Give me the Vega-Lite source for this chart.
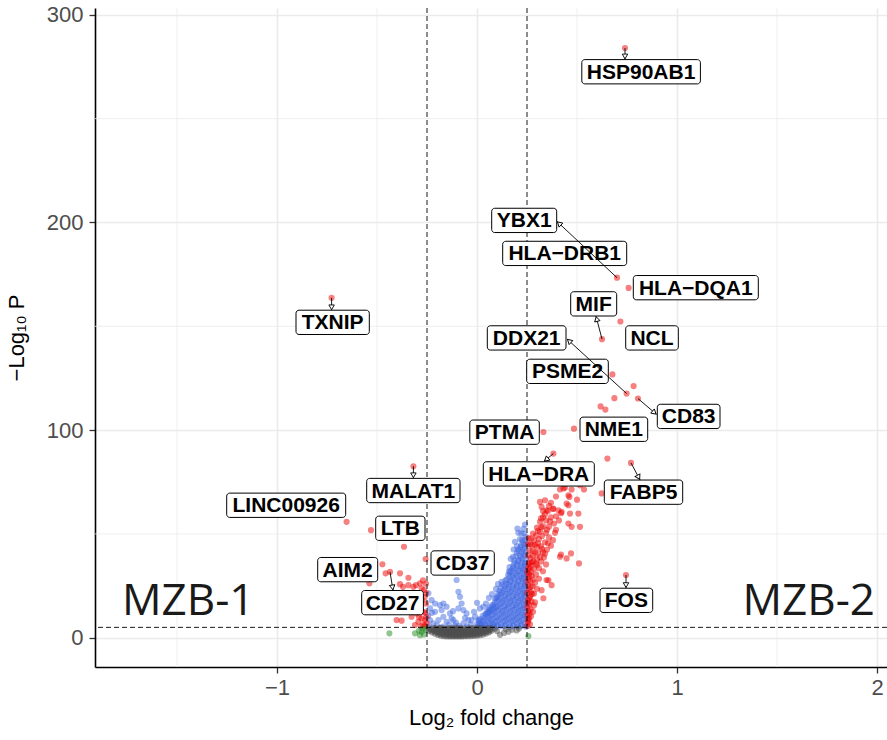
{
  "$schema": "https://vega.github.io/schema/vega-lite/v6.json",
  "width": 792,
  "height": 659,
  "autosize": {"type": "none"},
  "padding": {"left": 95, "top": 8, "right": 0, "bottom": 73},
  "background": "white",
  "config": {"view": {"stroke": null}, "font": "Liberation Sans"},
  "datasets": {
    "pts": [
      {"x":0.005,"y":5.6,"c":"P"},{"x":0.012,"y":7.1,"c":"P"},{"x":0.018,"y":5.9,"c":"P"},{"x":0.010,"y":8.3,"c":"P"},
      {"x":0.025,"y":5.8,"c":"P"},{"x":0.030,"y":7.9,"c":"P"},{"x":0.035,"y":9.6,"c":"P"},{"x":0.028,"y":10.6,"c":"P"},{"x":0.040,"y":6.5,"c":"P"},
      {"x":0.048,"y":5.4,"c":"P"},{"x":0.052,"y":8.0,"c":"P"},{"x":0.055,"y":10.4,"c":"P"},{"x":0.050,"y":12.2,"c":"P"},{"x":0.058,"y":13.6,"c":"P"},{"x":0.045,"y":11.0,"c":"P"},
      {"x":0.065,"y":5.9,"c":"P"},{"x":0.070,"y":8.6,"c":"P"},{"x":0.072,"y":11.1,"c":"P"},{"x":0.068,"y":13.5,"c":"P"},{"x":0.075,"y":15.6,"c":"P"},{"x":0.078,"y":6.7,"c":"P"},{"x":0.062,"y":14.5,"c":"P"},
      {"x":0.085,"y":5.2,"c":"P"},{"x":0.090,"y":7.5,"c":"P"},{"x":0.092,"y":10.0,"c":"P"},{"x":0.088,"y":12.4,"c":"P"},{"x":0.095,"y":14.8,"c":"P"},{"x":0.090,"y":17.0,"c":"P"},{"x":0.097,"y":19.1,"c":"P"},{"x":0.083,"y":16.0,"c":"P"},
      {"x":0.105,"y":6.1,"c":"P"},{"x":0.110,"y":8.6,"c":"P"},{"x":0.112,"y":11.2,"c":"P"},{"x":0.108,"y":13.6,"c":"P"},{"x":0.115,"y":16.1,"c":"P"},{"x":0.110,"y":18.5,"c":"P"},{"x":0.117,"y":20.8,"c":"P"},{"x":0.113,"y":22.6,"c":"P"},{"x":0.102,"y":19.8,"c":"P"},
      {"x":0.125,"y":5.4,"c":"P"},{"x":0.130,"y":7.9,"c":"P"},{"x":0.132,"y":10.3,"c":"P"},{"x":0.128,"y":12.8,"c":"P"},{"x":0.135,"y":15.2,"c":"P"},{"x":0.130,"y":17.7,"c":"P"},{"x":0.137,"y":20.1,"c":"P"},{"x":0.133,"y":22.6,"c":"P"},{"x":0.138,"y":24.9,"c":"P"},{"x":0.127,"y":25.6,"c":"P"},
      {"x":0.145,"y":6.2,"c":"P"},{"x":0.150,"y":8.7,"c":"P"},{"x":0.152,"y":11.1,"c":"P"},{"x":0.148,"y":13.6,"c":"P"},{"x":0.155,"y":16.0,"c":"P"},{"x":0.150,"y":18.5,"c":"P"},{"x":0.157,"y":21.0,"c":"P"},{"x":0.153,"y":23.4,"c":"P"},{"x":0.158,"y":25.8,"c":"P"},{"x":0.149,"y":28.1,"c":"P"},{"x":0.156,"y":30.3,"c":"P"},{"x":0.160,"y":32.0,"c":"P"},
      {"x":0.165,"y":5.3,"c":"P"},{"x":0.170,"y":7.8,"c":"P"},{"x":0.172,"y":10.2,"c":"P"},{"x":0.168,"y":12.7,"c":"P"},{"x":0.175,"y":15.1,"c":"P"},{"x":0.170,"y":17.6,"c":"P"},{"x":0.177,"y":20.0,"c":"P"},{"x":0.173,"y":22.5,"c":"P"},{"x":0.178,"y":24.9,"c":"P"},{"x":0.169,"y":27.4,"c":"P"},{"x":0.176,"y":29.8,"c":"P"},{"x":0.172,"y":32.2,"c":"P"},{"x":0.179,"y":34.4,"c":"P"},
      {"x":0.185,"y":6.0,"c":"P"},{"x":0.190,"y":8.5,"c":"P"},{"x":0.192,"y":10.9,"c":"P"},{"x":0.188,"y":13.4,"c":"P"},{"x":0.195,"y":15.8,"c":"P"},{"x":0.190,"y":18.3,"c":"P"},{"x":0.197,"y":20.7,"c":"P"},{"x":0.193,"y":23.2,"c":"P"},{"x":0.198,"y":25.6,"c":"P"},{"x":0.189,"y":28.1,"c":"P"},{"x":0.196,"y":30.5,"c":"P"},{"x":0.192,"y":33.0,"c":"P"},{"x":0.199,"y":35.4,"c":"P"},{"x":0.187,"y":37.2,"c":"P"},{"x":0.195,"y":39.5,"c":"P"},
      {"x":0.205,"y":5.4,"c":"P"},{"x":0.210,"y":7.9,"c":"P"},{"x":0.212,"y":10.3,"c":"P"},{"x":0.208,"y":12.8,"c":"P"},{"x":0.215,"y":15.2,"c":"P"},{"x":0.210,"y":17.7,"c":"P"},{"x":0.217,"y":20.1,"c":"P"},{"x":0.213,"y":22.6,"c":"P"},{"x":0.218,"y":25.0,"c":"P"},{"x":0.209,"y":27.5,"c":"P"},{"x":0.216,"y":29.9,"c":"P"},{"x":0.212,"y":32.4,"c":"P"},{"x":0.219,"y":34.8,"c":"P"},{"x":0.207,"y":37.0,"c":"P"},{"x":0.214,"y":39.4,"c":"P"},{"x":0.210,"y":41.8,"c":"P"},{"x":0.218,"y":43.6,"c":"P"},
      {"x":0.225,"y":6.1,"c":"P"},{"x":0.230,"y":8.6,"c":"P"},{"x":0.232,"y":11.0,"c":"P"},{"x":0.228,"y":13.5,"c":"P"},{"x":0.235,"y":15.9,"c":"P"},{"x":0.230,"y":18.4,"c":"P"},{"x":0.237,"y":20.8,"c":"P"},{"x":0.233,"y":23.3,"c":"P"},{"x":0.238,"y":25.7,"c":"P"},{"x":0.229,"y":28.2,"c":"P"},{"x":0.236,"y":30.6,"c":"P"},{"x":0.232,"y":33.1,"c":"P"},{"x":0.239,"y":35.5,"c":"P"},{"x":0.227,"y":37.9,"c":"P"},{"x":0.234,"y":40.3,"c":"P"},{"x":0.230,"y":42.7,"c":"P"},{"x":0.238,"y":45.0,"c":"P"},{"x":0.226,"y":47.1,"c":"P"},
      {"x":0.244,"y":5.3,"c":"P"},{"x":0.247,"y":9.0,"c":"P"},{"x":0.243,"y":12.5,"c":"P"},{"x":0.248,"y":16.2,"c":"P"},{"x":0.244,"y":19.8,"c":"P"},{"x":0.247,"y":23.4,"c":"P"},{"x":0.243,"y":27.0,"c":"P"},{"x":0.248,"y":30.6,"c":"P"},{"x":0.245,"y":34.2,"c":"P"},{"x":0.246,"y":37.8,"c":"P"},{"x":0.242,"y":41.4,"c":"P"},{"x":0.247,"y":45.0,"c":"P"},{"x":0.244,"y":48.5,"c":"P"},
      {"x":0.202,"y":52.6,"c":"P"},{"x":0.190,"y":46.2,"c":"P"},{"x":0.207,"y":50.5,"c":"P"},{"x":0.222,"y":50.3,"c":"P"},{"x":0.240,"y":54.5,"c":"P"},{"x":0.183,"y":42.5,"c":"P"},{"x":0.168,"y":38.0,"c":"P"},{"x":0.215,"y":47.5,"c":"P"},{"x":0.123,"y":26.9,"c":"P"},{"x":0.090,"y":18.9,"c":"P"},{"x":0.200,"y":44.0,"c":"P"},
      {"x":0.02,"y":6.8,"c":"P"},{"x":0.015,"y":9.0,"c":"P"},{"x":0.038,"y":8.2,"c":"P"},{"x":0.042,"y":11.5,"c":"P"},{"x":0.033,"y":5.2,"c":"P"},
      {"x":0.06,"y":6.9,"c":"P"},{"x":0.062,"y":9.3,"c":"P"},{"x":0.057,"y":11.8,"c":"P"},{"x":0.065,"y":12.6,"c":"P"},
      {"x":0.08,"y":6.2,"c":"P"},{"x":0.08,"y":9.0,"c":"P"},{"x":0.082,"y":11.5,"c":"P"},{"x":0.078,"y":13.8,"c":"P"},{"x":0.085,"y":14.0,"c":"P"},
      {"x":0.1,"y":5.5,"c":"P"},{"x":0.1,"y":7.8,"c":"P"},{"x":0.102,"y":10.2,"c":"P"},{"x":0.098,"y":12.8,"c":"P"},{"x":0.104,"y":15.3,"c":"P"},{"x":0.1,"y":17.6,"c":"P"},{"x":0.106,"y":21.2,"c":"P"},
      {"x":0.12,"y":6.5,"c":"P"},{"x":0.12,"y":9.2,"c":"P"},{"x":0.122,"y":11.8,"c":"P"},{"x":0.118,"y":14.4,"c":"P"},{"x":0.124,"y":16.9,"c":"P"},{"x":0.12,"y":19.4,"c":"P"},{"x":0.125,"y":21.8,"c":"P"},{"x":0.119,"y":24.0,"c":"P"},
      {"x":0.14,"y":5.6,"c":"P"},{"x":0.14,"y":8.2,"c":"P"},{"x":0.142,"y":10.8,"c":"P"},{"x":0.138,"y":13.3,"c":"P"},{"x":0.144,"y":15.8,"c":"P"},{"x":0.14,"y":18.4,"c":"P"},{"x":0.145,"y":20.9,"c":"P"},{"x":0.141,"y":23.4,"c":"P"},{"x":0.146,"y":26.0,"c":"P"},{"x":0.142,"y":27.6,"c":"P"},
      {"x":0.16,"y":6.6,"c":"P"},{"x":0.16,"y":9.2,"c":"P"},{"x":0.162,"y":11.8,"c":"P"},{"x":0.158,"y":14.4,"c":"P"},{"x":0.164,"y":16.9,"c":"P"},{"x":0.16,"y":19.4,"c":"P"},{"x":0.165,"y":22.0,"c":"P"},{"x":0.161,"y":24.5,"c":"P"},{"x":0.166,"y":27.0,"c":"P"},{"x":0.162,"y":29.5,"c":"P"},{"x":0.165,"y":31.5,"c":"P"},{"x":0.163,"y":34.0,"c":"P"},
      {"x":0.18,"y":5.5,"c":"P"},{"x":0.18,"y":8.1,"c":"P"},{"x":0.182,"y":10.7,"c":"P"},{"x":0.178,"y":13.3,"c":"P"},{"x":0.184,"y":15.8,"c":"P"},{"x":0.18,"y":18.4,"c":"P"},{"x":0.185,"y":20.9,"c":"P"},{"x":0.181,"y":23.5,"c":"P"},{"x":0.186,"y":26.0,"c":"P"},{"x":0.182,"y":28.6,"c":"P"},{"x":0.186,"y":31.1,"c":"P"},{"x":0.182,"y":33.6,"c":"P"},{"x":0.186,"y":36.0,"c":"P"},{"x":0.18,"y":39.0,"c":"P"},
      {"x":0.2,"y":6.7,"c":"P"},{"x":0.2,"y":9.3,"c":"P"},{"x":0.202,"y":11.9,"c":"P"},{"x":0.198,"y":14.5,"c":"P"},{"x":0.204,"y":17.0,"c":"P"},{"x":0.2,"y":19.6,"c":"P"},{"x":0.205,"y":22.1,"c":"P"},{"x":0.201,"y":24.7,"c":"P"},{"x":0.206,"y":27.2,"c":"P"},{"x":0.202,"y":29.8,"c":"P"},{"x":0.206,"y":32.3,"c":"P"},{"x":0.202,"y":34.8,"c":"P"},{"x":0.206,"y":37.3,"c":"P"},{"x":0.2,"y":41.0,"c":"P"},{"x":0.204,"y":42.5,"c":"P"},
      {"x":0.22,"y":5.6,"c":"P"},{"x":0.22,"y":8.2,"c":"P"},{"x":0.222,"y":10.8,"c":"P"},{"x":0.218,"y":13.4,"c":"P"},{"x":0.224,"y":15.9,"c":"P"},{"x":0.22,"y":18.5,"c":"P"},{"x":0.225,"y":21.0,"c":"P"},{"x":0.221,"y":23.6,"c":"P"},{"x":0.226,"y":26.1,"c":"P"},{"x":0.222,"y":28.7,"c":"P"},{"x":0.226,"y":31.2,"c":"P"},{"x":0.222,"y":33.7,"c":"P"},{"x":0.226,"y":36.2,"c":"P"},{"x":0.22,"y":38.6,"c":"P"},{"x":0.224,"y":41.0,"c":"P"},{"x":0.22,"y":44.5,"c":"P"},{"x":0.228,"y":46.0,"c":"P"},
      {"x":0.24,"y":6.9,"c":"P"},{"x":0.24,"y":10.6,"c":"P"},{"x":0.238,"y":14.2,"c":"P"},{"x":0.24,"y":17.9,"c":"P"},{"x":0.239,"y":21.6,"c":"P"},{"x":0.24,"y":25.2,"c":"P"},{"x":0.238,"y":28.8,"c":"P"},{"x":0.24,"y":32.4,"c":"P"},{"x":0.239,"y":36.0,"c":"P"},{"x":0.24,"y":39.6,"c":"P"},{"x":0.237,"y":43.2,"c":"P"},{"x":0.24,"y":47.0,"c":"P"},{"x":0.236,"y":50.2,"c":"P"},{"x":0.232,"y":52.5,"c":"P"},
      {"x":-0.243,"y":21.4,"c":"P"},{"x":-0.227,"y":18.1,"c":"P"},{"x":-0.21,"y":16.5,"c":"P"},{"x":-0.185,"y":15.7,"c":"P"},{"x":-0.168,"y":16.5,"c":"P"},{"x":-0.235,"y":14.1,"c":"P"},{"x":-0.21,"y":12.5,"c":"P"},{"x":-0.177,"y":13.3,"c":"P"},{"x":-0.152,"y":14.9,"c":"P"},{"x":-0.135,"y":11.7,"c":"P"},{"x":-0.168,"y":10.1,"c":"P"},{"x":-0.193,"y":8.5,"c":"P"},{"x":-0.235,"y":8.5,"c":"P"},{"x":-0.118,"y":8.5,"c":"P"},{"x":-0.102,"y":27.8,"c":"P"},{"x":-0.093,"y":22.1,"c":"P"},{"x":-0.085,"y":19.7,"c":"P"},{"x":-0.077,"y":16.5,"c":"P"},{"x":-0.093,"y":14.1,"c":"P"},{"x":-0.068,"y":13.3,"c":"P"},{"x":-0.052,"y":11.7,"c":"P"},{"x":-0.127,"y":9.3,"c":"P"},{"x":-0.105,"y":7.2,"c":"P"},{"x":-0.043,"y":8.5,"c":"P"},{"x":-0.027,"y":8.5,"c":"P"},{"x":-0.01,"y":10.1,"c":"P"},{"x":0.015,"y":14.1,"c":"P"},{"x":0.032,"y":14.9,"c":"P"},{"x":0.057,"y":12.5,"c":"P"},{"x":0.082,"y":14.9,"c":"P"},{"x":0.007,"y":8.5,"c":"P"},{"x":-0.152,"y":7.7,"c":"P"},{"x":-0.218,"y":6.9,"c":"P"},{"x":-0.068,"y":6.9,"c":"P"},{"x":-0.2,"y":6.0,"c":"P"},{"x":-0.14,"y":6.3,"c":"P"},{"x":-0.09,"y":5.6,"c":"P"},{"x":-0.03,"y":6.2,"c":"P"},{"x":-0.245,"y":10.5,"c":"P"},{"x":-0.225,"y":12.0,"c":"P"},{"x":-0.12,"y":12.8,"c":"P"},{"x":-0.06,"y":9.5,"c":"P"},{"x":-0.015,"y":12.5,"c":"P"},{"x":0.0,"y":16.8,"c":"P"},{"x":0.045,"y":16.5,"c":"P"},{"x":0.06,"y":19.2,"c":"P"},{"x":0.075,"y":21.0,"c":"P"},{"x":0.095,"y":23.5,"c":"P"},{"x":0.105,"y":25.8,"c":"P"},{"x":-0.24,"y":5.5,"c":"P"},{"x":-0.17,"y":5.4,"c":"P"},{"x":-0.11,"y":5.8,"c":"P"},{"x":-0.05,"y":5.5,"c":"P"},{"x":0.0,"y":6.5,"c":"P"},
      {"x":0.74,"y":284.0,"c":"S"},{"x":-0.727,"y":163.7,"c":"S"},{"x":0.70,"y":173.4,"c":"S"},{"x":0.758,"y":168.5,"c":"S"},{"x":0.717,"y":152.3,"c":"S"},{"x":0.625,"y":143.8,"c":"S"},{"x":0.677,"y":126.8,"c":"S"},{"x":0.783,"y":121.2,"c":"S"},{"x":0.748,"y":117.6,"c":"S"},{"x":0.805,"y":115.2,"c":"S"},{"x":0.687,"y":115.4,"c":"S"},{"x":0.618,"y":111.4,"c":"S"},{"x":0.642,"y":109.9,"c":"S"},{"x":0.332,"y":99.1,"c":"S"},{"x":0.485,"y":100.7,"c":"S"},{"x":0.382,"y":88.7,"c":"S"},{"x":0.652,"y":86.3,"c":"S"},{"x":0.77,"y":84.2,"c":"S"},{"x":0.745,"y":30.2,"c":"S"},{"x":0.623,"y":69.5,"c":"S"},{"x":-0.318,"y":82.6,"c":"S"},{"x":-0.652,"y":55.8,"c":"S"},
      {"x":0.535,"y":71.4,"c":"S"},{"x":0.415,"y":71.4,"c":"S"},{"x":0.44,"y":72.3,"c":"S"},{"x":0.473,"y":71.4,"c":"S"},{"x":0.515,"y":73.4,"c":"S"},{"x":0.462,"y":67.8,"c":"S"},{"x":0.315,"y":65.4,"c":"S"},{"x":0.34,"y":66.2,"c":"S"},{"x":0.323,"y":63.0,"c":"S"},{"x":0.348,"y":61.4,"c":"S"},{"x":0.382,"y":62.2,"c":"S"},{"x":0.407,"y":61.4,"c":"S"},{"x":0.423,"y":60.6,"c":"S"},{"x":0.457,"y":63.8,"c":"S"},{"x":0.465,"y":59.8,"c":"S"},{"x":0.507,"y":59.8,"c":"S"},{"x":0.457,"y":55.0,"c":"S"},{"x":0.473,"y":53.4,"c":"S"},{"x":0.515,"y":53.4,"c":"S"},{"x":0.457,"y":68.6,"c":"S"},{"x":0.448,"y":64.6,"c":"S"},{"x":0.37,"y":65.0,"c":"S"},{"x":0.395,"y":68.0,"c":"S"},{"x":0.432,"y":71.9,"c":"S"},{"x":0.5,"y":66.5,"c":"S"},{"x":0.51,"y":35.8,"c":"S"},{"x":0.47,"y":40.6,"c":"S"},{"x":0.42,"y":40.1,"c":"S"},{"x":0.448,"y":38.2,"c":"S"},{"x":0.415,"y":39.0,"c":"S"},{"x":0.357,"y":27.7,"c":"S"},{"x":0.332,"y":19.0,"c":"S"},
      {"x":0.252,"y":5.6,"c":"S"},{"x":0.255,"y":7.4,"c":"S"},{"x":0.26,"y":9.2,"c":"S"},{"x":0.253,"y":11.0,"c":"S"},{"x":0.265,"y":6.5,"c":"S"},{"x":0.27,"y":10.3,"c":"S"},{"x":0.258,"y":12.8,"c":"S"},
      {"x":0.252,"y":14.5,"c":"S"},{"x":0.26,"y":16.0,"c":"S"},{"x":0.268,"y":13.7,"c":"S"},{"x":0.255,"y":18.2,"c":"S"},{"x":0.272,"y":17.5,"c":"S"},{"x":0.265,"y":19.8,"c":"S"},{"x":0.285,"y":15.5,"c":"S"},{"x":0.29,"y":17.0,"c":"S"},{"x":0.28,"y":12.5,"c":"S"},{"x":0.276,"y":21.0,"c":"S"},
      {"x":0.252,"y":21.5,"c":"S"},{"x":0.26,"y":23.2,"c":"S"},{"x":0.27,"y":22.0,"c":"S"},{"x":0.255,"y":25.6,"c":"S"},{"x":0.265,"y":27.3,"c":"S"},{"x":0.278,"y":24.8,"c":"S"},{"x":0.285,"y":21.3,"c":"S"},{"x":0.29,"y":26.5,"c":"S"},{"x":0.3,"y":23.6,"c":"S"},{"x":0.257,"y":29.4,"c":"S"},{"x":0.273,"y":29.8,"c":"S"},{"x":0.31,"y":28.4,"c":"S"},{"x":0.323,"y":22.9,"c":"S"},{"x":0.348,"y":27.8,"c":"S"},{"x":0.373,"y":25.3,"c":"S"},{"x":0.295,"y":30.5,"c":"S"},
      {"x":0.252,"y":31.5,"c":"S"},{"x":0.262,"y":33.4,"c":"S"},{"x":0.27,"y":31.9,"c":"S"},{"x":0.258,"y":35.6,"c":"S"},{"x":0.275,"y":36.3,"c":"S"},{"x":0.285,"y":33.2,"c":"S"},{"x":0.295,"y":35.8,"c":"S"},{"x":0.268,"y":38.4,"c":"S"},{"x":0.28,"y":39.5,"c":"S"},{"x":0.3,"y":38.0,"c":"S"},{"x":0.31,"y":33.5,"c":"S"},{"x":0.32,"y":36.7,"c":"S"},{"x":0.29,"y":41.0,"c":"S"},{"x":0.305,"y":40.8,"c":"S"},{"x":0.335,"y":38.6,"c":"S"},{"x":0.345,"y":35.3,"c":"S"},{"x":0.33,"y":32.0,"c":"S"},
      {"x":0.262,"y":42.0,"c":"S"},{"x":0.275,"y":44.5,"c":"S"},{"x":0.285,"y":46.8,"c":"S"},{"x":0.3,"y":43.6,"c":"S"},{"x":0.31,"y":47.5,"c":"S"},{"x":0.32,"y":44.0,"c":"S"},{"x":0.33,"y":41.2,"c":"S"},{"x":0.34,"y":46.0,"c":"S"},{"x":0.35,"y":42.5,"c":"S"},{"x":0.295,"y":49.2,"c":"S"},{"x":0.315,"y":51.0,"c":"S"},{"x":0.36,"y":48.3,"c":"S"},{"x":0.27,"y":47.7,"c":"S"},{"x":0.255,"y":45.0,"c":"S"},{"x":0.37,"y":44.3,"c":"S"},{"x":0.38,"y":47.0,"c":"S"},{"x":0.345,"y":50.5,"c":"S"},{"x":0.325,"y":49.0,"c":"S"},{"x":0.39,"y":50.5,"c":"S"},
      {"x":0.3,"y":53.0,"c":"S"},{"x":0.315,"y":55.8,"c":"S"},{"x":0.33,"y":53.6,"c":"S"},{"x":0.345,"y":56.5,"c":"S"},{"x":0.36,"y":53.5,"c":"S"},{"x":0.37,"y":58.0,"c":"S"},{"x":0.385,"y":55.0,"c":"S"},{"x":0.395,"y":52.0,"c":"S"},{"x":0.41,"y":56.5,"c":"S"},{"x":0.34,"y":59.5,"c":"S"},{"x":0.32,"y":57.5,"c":"S"},{"x":0.355,"y":61.0,"c":"S"},{"x":0.42,"y":60.0,"c":"S"},{"x":0.38,"y":62.0,"c":"S"},
      {"x":0.256,"y":8.5,"c":"S"},{"x":0.262,"y":11.5,"c":"S"},{"x":0.254,"y":16.8,"c":"S"},{"x":0.262,"y":19.0,"c":"S"},{"x":0.268,"y":24.6,"c":"S"},{"x":0.254,"y":27.8,"c":"S"},{"x":0.262,"y":30.6,"c":"S"},{"x":0.28,"y":28.0,"c":"S"},{"x":0.255,"y":33.3,"c":"S"},{"x":0.264,"y":36.0,"c":"S"},{"x":0.256,"y":39.6,"c":"S"},{"x":0.278,"y":41.8,"c":"S"},{"x":0.266,"y":45.0,"c":"S"},{"x":0.258,"y":48.0,"c":"S"},{"x":0.29,"y":44.8,"c":"S"},{"x":0.305,"y":45.5,"c":"S"},{"x":0.28,"y":50.2,"c":"S"},{"x":0.305,"y":51.5,"c":"S"},{"x":0.322,"y":53.2,"c":"S"},{"x":0.35,"y":52.0,"c":"S"},{"x":0.33,"y":58.0,"c":"S"},{"x":0.365,"y":56.0,"c":"S"},{"x":0.395,"y":58.5,"c":"S"},{"x":0.36,"y":63.5,"c":"S"},{"x":0.33,"y":61.0,"c":"S"},{"x":0.3,"y":35.0,"c":"S"},{"x":0.315,"y":38.8,"c":"S"},{"x":0.282,"y":36.8,"c":"S"},{"x":0.27,"y":34.6,"c":"S"},{"x":0.325,"y":42.8,"c":"S"},{"x":0.34,"y":40.5,"c":"S"},{"x":0.355,"y":45.5,"c":"S"},
      {"x":-0.53,"y":51.8,"c":"S"},{"x":-0.365,"y":43.8,"c":"S"},{"x":-0.257,"y":37.9,"c":"S"},{"x":-0.473,"y":35.4,"c":"S"},{"x":-0.457,"y":31.0,"c":"S"},{"x":-0.435,"y":31.7,"c":"S"},{"x":-0.385,"y":31.0,"c":"S"},{"x":-0.343,"y":28.9,"c":"S"},{"x":-0.538,"y":26.2,"c":"S"},{"x":-0.385,"y":25.8,"c":"S"},{"x":-0.37,"y":24.5,"c":"S"},{"x":-0.318,"y":24.5,"c":"S"},{"x":-0.285,"y":26.2,"c":"S"},{"x":-0.277,"y":23.8,"c":"S"},{"x":-0.27,"y":27.6,"c":"S"},{"x":-0.305,"y":25.3,"c":"S"},{"x":-0.343,"y":25.3,"c":"S"},{"x":-0.402,"y":8.5,"c":"S"},{"x":-0.377,"y":8.2,"c":"S"},{"x":-0.327,"y":10.1,"c":"S"},{"x":-0.285,"y":14.1,"c":"S"},{"x":-0.268,"y":12.5,"c":"S"},{"x":-0.302,"y":11.7,"c":"S"},{"x":-0.277,"y":9.3,"c":"S"},{"x":-0.26,"y":8.5,"c":"S"},{"x":-0.293,"y":7.7,"c":"S"},{"x":-0.31,"y":6.1,"c":"S"},{"x":-0.268,"y":6.1,"c":"S"},{"x":-0.255,"y":16.5,"c":"S"},{"x":-0.262,"y":19.5,"c":"S"},{"x":-0.275,"y":18.0,"c":"S"},{"x":-0.255,"y":21.5,"c":"S"},{"x":-0.258,"y":12.0,"c":"S"},{"x":-0.252,"y":7.0,"c":"S"},{"x":-0.253,"y":10.0,"c":"S"},{"x":-0.26,"y":5.6,"c":"S"},{"x":-0.28,"y":5.5,"c":"S"},{"x":-0.29,"y":10.0,"c":"S"},{"x":-0.265,"y":23.0,"c":"S"},{"x":-0.3,"y":18.5,"c":"S"},{"x":-0.29,"y":15.5,"c":"S"},{"x":-0.255,"y":26.0,"c":"S"},{"x":-0.28,"y":20.5,"c":"S"},
      {"x":-0.438,"y":2.1,"c":"FC"},{"x":-0.31,"y":2.1,"c":"FC"},{"x":-0.29,"y":3.3,"c":"FC"},{"x":-0.277,"y":2.9,"c":"FC"},{"x":-0.265,"y":1.6,"c":"FC"},{"x":-0.255,"y":3.8,"c":"FC"},{"x":-0.27,"y":4.4,"c":"FC"},{"x":0.257,"y":0.8,"c":"FC"},{"x":-0.285,"y":1.2,"c":"FC"},
      {"x":-0.24,"y":3.2,"c":"NS"},{"x":-0.241,"y":4.5,"c":"NS"},{"x":-0.225,"y":2.6,"c":"NS"},{"x":-0.226,"y":4.0,"c":"NS"},{"x":-0.21,"y":1.9,"c":"NS"},{"x":-0.212,"y":3.4,"c":"NS"},{"x":-0.209,"y":4.7,"c":"NS"},{"x":-0.195,"y":1.3,"c":"NS"},{"x":-0.196,"y":2.8,"c":"NS"},{"x":-0.194,"y":4.2,"c":"NS"},
      {"x":-0.18,"y":0.9,"c":"NS"},{"x":-0.181,"y":2.3,"c":"NS"},{"x":-0.179,"y":3.7,"c":"NS"},{"x":-0.182,"y":4.8,"c":"NS"},{"x":-0.165,"y":0.7,"c":"NS"},{"x":-0.166,"y":2.0,"c":"NS"},{"x":-0.164,"y":3.3,"c":"NS"},{"x":-0.167,"y":4.5,"c":"NS"},
      {"x":-0.15,"y":0.6,"c":"NS"},{"x":-0.151,"y":1.8,"c":"NS"},{"x":-0.149,"y":3.1,"c":"NS"},{"x":-0.152,"y":4.4,"c":"NS"},{"x":-0.135,"y":0.6,"c":"NS"},{"x":-0.136,"y":1.6,"c":"NS"},{"x":-0.134,"y":2.9,"c":"NS"},{"x":-0.137,"y":4.2,"c":"NS"},
      {"x":-0.12,"y":0.6,"c":"NS"},{"x":-0.121,"y":1.5,"c":"NS"},{"x":-0.119,"y":2.8,"c":"NS"},{"x":-0.122,"y":4.1,"c":"NS"},{"x":-0.105,"y":0.6,"c":"NS"},{"x":-0.106,"y":1.4,"c":"NS"},{"x":-0.104,"y":2.7,"c":"NS"},{"x":-0.107,"y":4.0,"c":"NS"},
      {"x":-0.09,"y":0.6,"c":"NS"},{"x":-0.091,"y":1.5,"c":"NS"},{"x":-0.089,"y":2.8,"c":"NS"},{"x":-0.092,"y":4.2,"c":"NS"},{"x":-0.075,"y":0.6,"c":"NS"},{"x":-0.076,"y":1.6,"c":"NS"},{"x":-0.074,"y":2.9,"c":"NS"},{"x":-0.077,"y":4.3,"c":"NS"},
      {"x":-0.06,"y":0.7,"c":"NS"},{"x":-0.061,"y":1.7,"c":"NS"},{"x":-0.059,"y":3.0,"c":"NS"},{"x":-0.062,"y":4.4,"c":"NS"},{"x":-0.045,"y":0.7,"c":"NS"},{"x":-0.046,"y":1.8,"c":"NS"},{"x":-0.044,"y":3.1,"c":"NS"},{"x":-0.047,"y":4.5,"c":"NS"},
      {"x":-0.03,"y":0.8,"c":"NS"},{"x":-0.031,"y":1.9,"c":"NS"},{"x":-0.029,"y":3.2,"c":"NS"},{"x":-0.032,"y":4.6,"c":"NS"},{"x":-0.015,"y":0.9,"c":"NS"},{"x":-0.016,"y":2.1,"c":"NS"},{"x":-0.014,"y":3.4,"c":"NS"},{"x":-0.017,"y":4.7,"c":"NS"},
      {"x":0.0,"y":1.0,"c":"NS"},{"x":0.001,"y":2.3,"c":"NS"},{"x":-0.001,"y":3.6,"c":"NS"},{"x":0.002,"y":4.8,"c":"NS"},{"x":0.015,"y":1.2,"c":"NS"},{"x":0.016,"y":2.5,"c":"NS"},{"x":0.014,"y":3.8,"c":"NS"},
      {"x":0.03,"y":1.5,"c":"NS"},{"x":0.031,"y":2.8,"c":"NS"},{"x":0.029,"y":4.1,"c":"NS"},{"x":0.045,"y":2.0,"c":"NS"},{"x":0.046,"y":3.2,"c":"NS"},{"x":0.044,"y":4.4,"c":"NS"},{"x":0.06,"y":2.6,"c":"NS"},{"x":0.061,"y":3.7,"c":"NS"},{"x":0.059,"y":4.7,"c":"NS"},{"x":0.072,"y":3.3,"c":"NS"},{"x":0.073,"y":4.5,"c":"NS"},
      {"x":-0.232,"y":3.8,"c":"NS"},{"x":-0.217,"y":3.2,"c":"NS"},{"x":-0.217,"y":4.6,"c":"NS"},{"x":-0.202,"y":2.5,"c":"NS"},{"x":-0.202,"y":4.0,"c":"NS"},{"x":-0.187,"y":1.8,"c":"NS"},{"x":-0.187,"y":3.3,"c":"NS"},{"x":-0.187,"y":4.6,"c":"NS"},{"x":-0.172,"y":1.5,"c":"NS"},{"x":-0.172,"y":2.9,"c":"NS"},{"x":-0.172,"y":4.2,"c":"NS"},{"x":-0.157,"y":1.2,"c":"NS"},{"x":-0.157,"y":2.5,"c":"NS"},{"x":-0.157,"y":3.8,"c":"NS"},{"x":-0.142,"y":1.1,"c":"NS"},{"x":-0.142,"y":2.3,"c":"NS"},{"x":-0.142,"y":3.6,"c":"NS"},{"x":-0.142,"y":4.7,"c":"NS"},{"x":-0.127,"y":1.0,"c":"NS"},{"x":-0.127,"y":2.2,"c":"NS"},{"x":-0.127,"y":3.5,"c":"NS"},{"x":-0.127,"y":4.7,"c":"NS"},{"x":-0.112,"y":1.0,"c":"NS"},{"x":-0.112,"y":2.1,"c":"NS"},{"x":-0.112,"y":3.4,"c":"NS"},{"x":-0.112,"y":4.6,"c":"NS"},{"x":-0.097,"y":1.0,"c":"NS"},{"x":-0.097,"y":2.1,"c":"NS"},{"x":-0.097,"y":3.4,"c":"NS"},{"x":-0.097,"y":4.7,"c":"NS"},{"x":-0.082,"y":1.0,"c":"NS"},{"x":-0.082,"y":2.2,"c":"NS"},{"x":-0.082,"y":3.5,"c":"NS"},{"x":-0.082,"y":4.7,"c":"NS"},{"x":-0.067,"y":1.1,"c":"NS"},{"x":-0.067,"y":2.3,"c":"NS"},{"x":-0.067,"y":3.6,"c":"NS"},{"x":-0.052,"y":1.2,"c":"NS"},{"x":-0.052,"y":2.4,"c":"NS"},{"x":-0.052,"y":3.8,"c":"NS"},{"x":-0.037,"y":1.3,"c":"NS"},{"x":-0.037,"y":2.5,"c":"NS"},{"x":-0.037,"y":3.9,"c":"NS"},{"x":-0.022,"y":1.4,"c":"NS"},{"x":-0.022,"y":2.7,"c":"NS"},{"x":-0.022,"y":4.1,"c":"NS"},{"x":-0.007,"y":1.6,"c":"NS"},{"x":-0.007,"y":2.9,"c":"NS"},{"x":-0.007,"y":4.2,"c":"NS"},{"x":0.008,"y":1.8,"c":"NS"},{"x":0.008,"y":3.1,"c":"NS"},{"x":0.008,"y":4.4,"c":"NS"},{"x":0.023,"y":2.1,"c":"NS"},{"x":0.023,"y":3.4,"c":"NS"},{"x":0.023,"y":4.6,"c":"NS"},{"x":0.038,"y":2.5,"c":"NS"},{"x":0.038,"y":3.7,"c":"NS"},{"x":0.053,"y":3.0,"c":"NS"},{"x":0.053,"y":4.2,"c":"NS"},{"x":0.066,"y":3.9,"c":"NS"},
      {"x":0.1,"y":3.2,"c":"NS"},{"x":0.115,"y":1.4,"c":"NS"},{"x":0.135,"y":2.3,"c":"NS"},{"x":0.157,"y":2.9,"c":"NS"},{"x":0.175,"y":3.9,"c":"NS"},{"x":0.198,"y":3.5,"c":"NS"},{"x":0.21,"y":4.4,"c":"NS"},{"x":0.09,"y":4.3,"c":"NS"},{"x":0.145,"y":4.1,"c":"NS"}
    ],
    "labels": [
      {"n":"HSP90AB1","x1":0.524,"x2":1.117,"ly":272.6},
      {"n":"TXNIP","x1":-0.905,"x2":-0.5385,"ly":151.9},
      {"n":"YBX1","x1":0.0735,"x2":0.3985,"ly":201.0},
      {"n":"HLA−DRB1","x1":0.1285,"x2":0.7485,"ly":185.1},
      {"n":"HLA−DQA1","x1":0.7815,"x2":1.4065,"ly":168.6},
      {"n":"MIF","x1":0.4685,"x2":0.6985,"ly":160.8},
      {"n":"NCL","x1":0.7435,"x2":1.0065,"ly":144.4},
      {"n":"DDX21","x1":0.0515,"x2":0.445,"ly":144.4},
      {"n":"PSME2","x1":0.2485,"x2":0.6565,"ly":128.3},
      {"n":"CD83","x1":0.9015,"x2":1.215,"ly":106.6},
      {"n":"NME1","x1":0.515,"x2":0.8535,"ly":100.4},
      {"n":"PTMA","x1":-0.036,"x2":0.3115,"ly":99.0},
      {"n":"HLA−DRA","x1":0.0315,"x2":0.5865,"ly":78.9},
      {"n":"FABP5","x1":0.6365,"x2":1.0285,"ly":70.1},
      {"n":"FOS","x1":0.615,"x2":0.8785,"ly":18.0},
      {"n":"MALAT1","x1":-0.5515,"x2":-0.085,"ly":70.9},
      {"n":"LINC00926","x1":-1.2515,"x2":-0.6565,"ly":63.8},
      {"n":"LTB","x1":-0.5065,"x2":-0.26,"ly":52.7},
      {"n":"CD37","x1":-0.23,"x2":0.0865,"ly":36.0},
      {"n":"AIM2","x1":-0.7965,"x2":-0.4965,"ly":32.8},
      {"n":"CD27","x1":-0.5765,"x2":-0.268,"ly":16.9}
    ],
    "arrows": [
      {"n":"HSP90AB1","px":0.74,"py":284.0,"ax":0.74,"ay":278.5},
      {"n":"TXNIP","px":-0.727,"py":163.7,"ax":-0.727,"ay":157.7},
      {"n":"YBX1","px":0.70,"py":173.4,"ax":0.40,"ay":200.5},
      {"n":"MIF","px":0.625,"py":143.8,"ax":0.595,"ay":154.9},
      {"n":"DDX21","px":0.748,"py":117.6,"ax":0.45,"ay":143.9},
      {"n":"CD83","px":0.805,"py":115.2,"ax":0.898,"ay":107.5},
      {"n":"HLA−DRA","px":0.382,"py":88.7,"ax":0.335,"ay":84.9},
      {"n":"FABP5","px":0.77,"py":84.2,"ax":0.815,"ay":76.0},
      {"n":"FOS","px":0.745,"py":30.2,"ax":0.745,"ay":23.9},
      {"n":"MALAT1","px":-0.318,"py":82.6,"ax":-0.318,"ay":76.8},
      {"n":"CD27","px":-0.435,"py":31.7,"ax":-0.42,"ay":22.8}
    ]
  },
  "layer": [
    {
      "data": {"values": [{"v": -1.5}, {"v": -0.5}, {"v": 0.5}, {"v": 1.5}]},
      "mark": {"type": "rule", "color": "#ebebeb", "strokeWidth": 0.8},
      "encoding": {
        "x": {
          "field": "v", "type": "quantitative",
          "scale": {"domain": [-1.91, 2.05], "nice": false, "zero": false},
          "axis": {
            "values": [-1, 0, 1, 2], "format": "d", "title": "Log₂ fold change",
            "grid": true, "gridColor": "#ebebeb", "gridWidth": 1.6,
            "domainColor": "black", "domainWidth": 1.6,
            "tickColor": "#333333", "tickSize": 6, "tickWidth": 1.3,
            "labelFont": "Liberation Sans", "labelFontSize": 22, "labelColor": "#4d4d4d", "labelPadding": 4,
            "labelFlush": false,
            "titleFont": "Liberation Sans", "titleFontSize": 22, "titleColor": "black", "titleFontWeight": "normal", "titlePadding": 9
          }
        }
      }
    },
    {
      "data": {"values": [{"v": 50}, {"v": 150}, {"v": 250}]},
      "mark": {"type": "rule", "color": "#ebebeb", "strokeWidth": 0.8},
      "encoding": {
        "y": {
          "field": "v", "type": "quantitative",
          "scale": {"domain": [-14.1, 303.3], "nice": false, "zero": false},
          "axis": {
            "values": [0, 100, 200, 300], "title": "−Log₁₀ P",
            "grid": true, "gridColor": "#ebebeb", "gridWidth": 1.6,
            "domainColor": "black", "domainWidth": 1.6,
            "tickColor": "#333333", "tickSize": 6, "tickWidth": 1.3,
            "labelFont": "Liberation Sans", "labelFontSize": 22, "labelColor": "#4d4d4d", "labelPadding": 6,
            "titleFont": "Liberation Sans", "titleFontSize": 22, "titleColor": "black", "titleFontWeight": "normal", "titlePadding": 18
          }
        }
      }
    },
    {
      "data": {"name": "pts"},
      "mark": {"type": "circle", "size": 38, "opacity": 0.5},
      "encoding": {
        "x": {"field": "x", "type": "quantitative"},
        "y": {"field": "y", "type": "quantitative"},
        "color": {
          "field": "c", "type": "nominal",
          "scale": {"domain": ["NS", "FC", "P", "S"], "range": ["#4d4d4d", "#228b22", "#4169e1", "#ee0000"]},
          "legend": null
        }
      }
    },
    {
      "data": {"values": [{"v": -0.25}, {"v": 0.25}]},
      "mark": {"type": "rule", "color": "black", "strokeWidth": 0.9, "strokeDash": [5, 3]},
      "encoding": {"x": {"field": "v", "type": "quantitative"}}
    },
    {
      "data": {"values": [{"v": 5}]},
      "mark": {"type": "rule", "color": "black", "strokeWidth": 0.9, "strokeDash": [5, 3]},
      "encoding": {"y": {"field": "v", "type": "quantitative"}}
    },
    {
      "data": {"name": "labels"},
      "transform": [
        {"calculate": "datum.ly - 5.85", "as": "y1"},
        {"calculate": "datum.ly + 5.85", "as": "y2"}
      ],
      "mark": {"type": "rect", "fill": "white", "stroke": "black", "strokeWidth": 1, "cornerRadius": 3},
      "encoding": {
        "x": {"field": "x1", "type": "quantitative"},
        "x2": {"field": "x2"},
        "y": {"field": "y1", "type": "quantitative"},
        "y2": {"field": "y2"}
      }
    },
    {
      "data": {"name": "labels"},
      "transform": [{"calculate": "(datum.x1 + datum.x2) / 2", "as": "lx"}],
      "mark": {"type": "text", "font": "Liberation Sans", "fontWeight": "bold", "fontSize": 21, "align": "center", "baseline": "middle", "dy": 1, "color": "black"},
      "encoding": {
        "x": {"field": "lx", "type": "quantitative"},
        "y": {"field": "ly", "type": "quantitative"},
        "text": {"field": "n"}
      }
    },
    {
      "data": {"name": "arrows"},
      "mark": {"type": "rule", "color": "black", "strokeWidth": 0.9},
      "encoding": {
        "x": {"field": "px", "type": "quantitative"},
        "y": {"field": "py", "type": "quantitative"},
        "x2": {"field": "ax"},
        "y2": {"field": "ay"}
      }
    },
    {
      "data": {"name": "arrows"},
      "transform": [
        {"calculate": "(datum.ax - datum.px) * 200", "as": "dx"},
        {"calculate": "-(datum.ay - datum.py) * 2.077", "as": "dy"},
        {"calculate": "sqrt(datum.dx * datum.dx + datum.dy * datum.dy)", "as": "L"},
        {"calculate": "atan2(-datum.dx, datum.dy) * 180 / PI", "as": "ang"},
        {"calculate": "datum.ax - (datum.dx / datum.L) * 3 / 200", "as": "hx"},
        {"calculate": "datum.ay + (datum.dy / datum.L) * 3 / 2.077", "as": "hy"}
      ],
      "mark": {"type": "point", "shape": "triangle-down", "size": 30, "filled": false, "stroke": "black", "strokeWidth": 0.9, "fill": "white", "fillOpacity": 1},
      "encoding": {
        "x": {"field": "hx", "type": "quantitative"},
        "y": {"field": "hy", "type": "quantitative"},
        "angle": {"field": "ang", "type": "quantitative", "scale": null}
      }
    },
    {
      "data": {"values": [{"t": "MZB-1", "x": -1.775, "y": 10.9}]},
      "mark": {"type": "text", "font": "Open Sans", "fontSize": 44, "align": "left", "baseline": "alphabetic", "color": "#1a1a1a"},
      "encoding": {
        "x": {"field": "x", "type": "quantitative"},
        "y": {"field": "y", "type": "quantitative"},
        "text": {"field": "t"}
      }
    },
    {
      "data": {"values": [{"t": "MZB-2", "x": 1.99, "y": 10.9}]},
      "mark": {"type": "text", "font": "Open Sans", "fontSize": 44, "align": "right", "baseline": "alphabetic", "color": "#1a1a1a"},
      "encoding": {
        "x": {"field": "x", "type": "quantitative"},
        "y": {"field": "y", "type": "quantitative"},
        "text": {"field": "t"}
      }
    }
  ]
}
